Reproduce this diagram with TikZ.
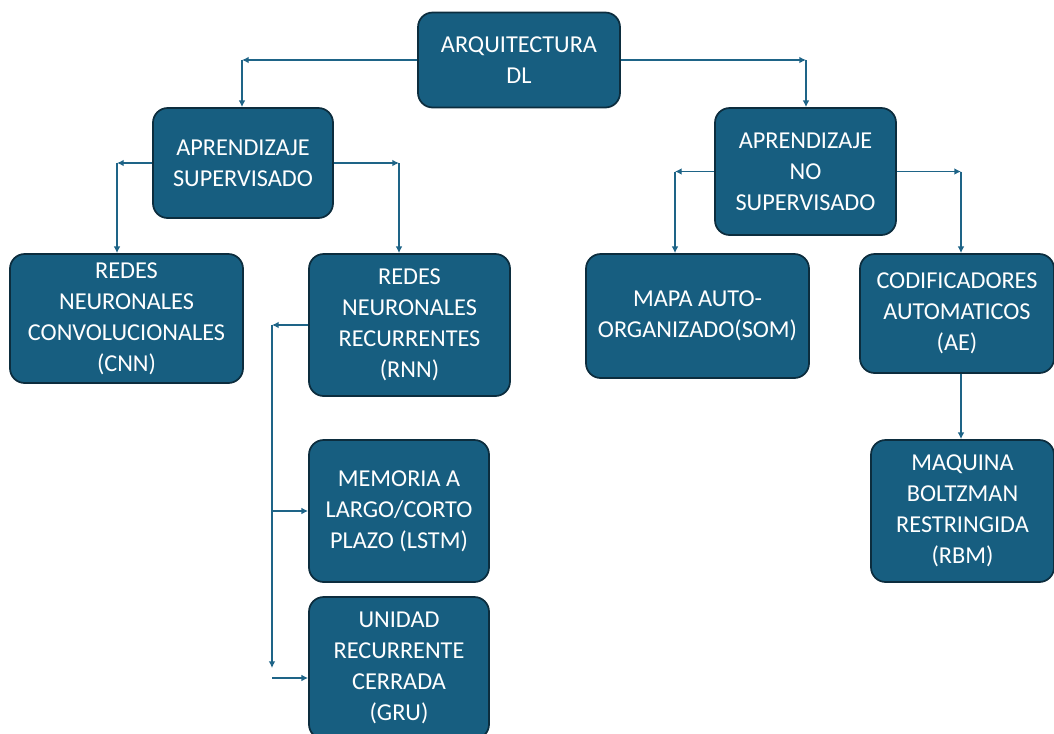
\documentclass[tikz,border=0pt]{standalone}
\usepackage{fontspec}
\setmainfont{Carlito}
\usetikzlibrary{arrows.meta}
\definecolor{boxblue}{RGB}{23,94,128}
\definecolor{boxedge}{RGB}{12,45,62}
\definecolor{lineblue}{RGB}{30,100,135}

\begin{document}
\begin{tikzpicture}[
        x=0.75pt,y=-0.75pt
    ]
    \tikzstyle{blk}=[draw=boxedge,line width=1.3pt,fill=boxblue,rounded corners=11pt,
        text=white,align=center,inner sep=0pt,font=\fontsize{18.2}{23.2}\selectfont];
    \tikzstyle{arr}=[lineblue,line width=1.2pt,-{Latex[length=5pt,width=5pt]}];
    \useasboundingbox (0,0) rectangle (1054,733);
    % top
    \node[blk,minimum width=151.5pt,minimum height=71.25pt] (arq) at (519,60) {ARQUITECTURA\\DL};
    % second level
    \node[blk,minimum width=135pt,minimum height=82.5pt] (sup) at (243,163) {APRENDIZAJE\\SUPERVISADO};
    \node[blk,minimum width=135.75pt,minimum height=95.25pt] (nosup) at (805.5,171.5) {APRENDIZAJE\\NO\\SUPERVISADO};
    % third level
    \node[blk,minimum width=174.75pt,minimum height=96.75pt] (cnn) at (126.5,318.5) {REDES\\NEURONALES\\CONVOLUCIONALES\\(CNN)};
    \node[blk,minimum width=150.75pt,minimum height=106.5pt] (rnn) at (409.5,325) {REDES\\NEURONALES\\RECURRENTES\\(RNN)};
    \node[blk,minimum width=167.25pt,minimum height=93pt] (som) at (697.5,316) {MAPA AUTO-\\ORGANIZADO(SOM)};
    \node[blk,minimum width=145.5pt,minimum height=89.25pt] (ae) at (957,313.5) {CODIFICADORES\\AUTOMATICOS\\(AE)};
    % fourth level
    \node[blk,minimum width=135pt,minimum height=106.5pt] (lstm) at (399,511) {MEMORIA A\\LARGO/CORTO\\PLAZO (LSTM)};
    \node[blk,minimum width=135pt,minimum height=106.5pt] (gru) at (399,668) {UNIDAD\\RECURRENTE\\CERRADA\\(GRU)};
    \node[blk,minimum width=137.25pt,minimum height=106.5pt] (rbm) at (962.5,511) {MAQUINA\\BOLTZMAN\\RESTRINGIDA\\(RBM)};
    % corners
    \coordinate (k1) at (242,60);
    \coordinate (k2) at (806,60);
    \coordinate (k3) at (117,163);
    \coordinate (k4) at (399,163);
    \coordinate (k5) at (675,171.5);
    \coordinate (k6) at (961,171.5);
    \coordinate (k7) at (272,325);
    \coordinate (k8) at (272,668);
    \coordinate (k9) at (272,678);
    % connectors
    \draw[arr] (arq.west) -- (k1);
    \draw[arr] (k1) -- (k1 |- sup.north);
    \draw[arr] (arq.east) -- (k2);
    \draw[arr] (k2) -- (k2 |- nosup.north);
    \draw[arr] (sup.west) -- (k3);
    \draw[arr] (k3) -- (k3 |- cnn.north);
    \draw[arr] (sup.east) -- (k4);
    \draw[arr] (k4) -- (k4 |- rnn.north);
    \draw[arr] (nosup.west) -- (k5);
    \draw[arr] (k5) -- (k5 |- som.north);
    \draw[arr] (nosup.east) -- (k6);
    \draw[arr] (k6) -- (k6 |- ae.north);
    \draw[arr] (rnn.west |- k7) -- (k7);
    \draw[arr] (k7) -- (k8);
    \draw[arr] (k7 |- lstm.west) -- (lstm.west);
    \draw[arr] (k9) -- (k9 -| gru.west);
    \draw[arr] (ae.south -| k6) -- (k6 |- rbm.north);
\end{tikzpicture}
\end{document}
